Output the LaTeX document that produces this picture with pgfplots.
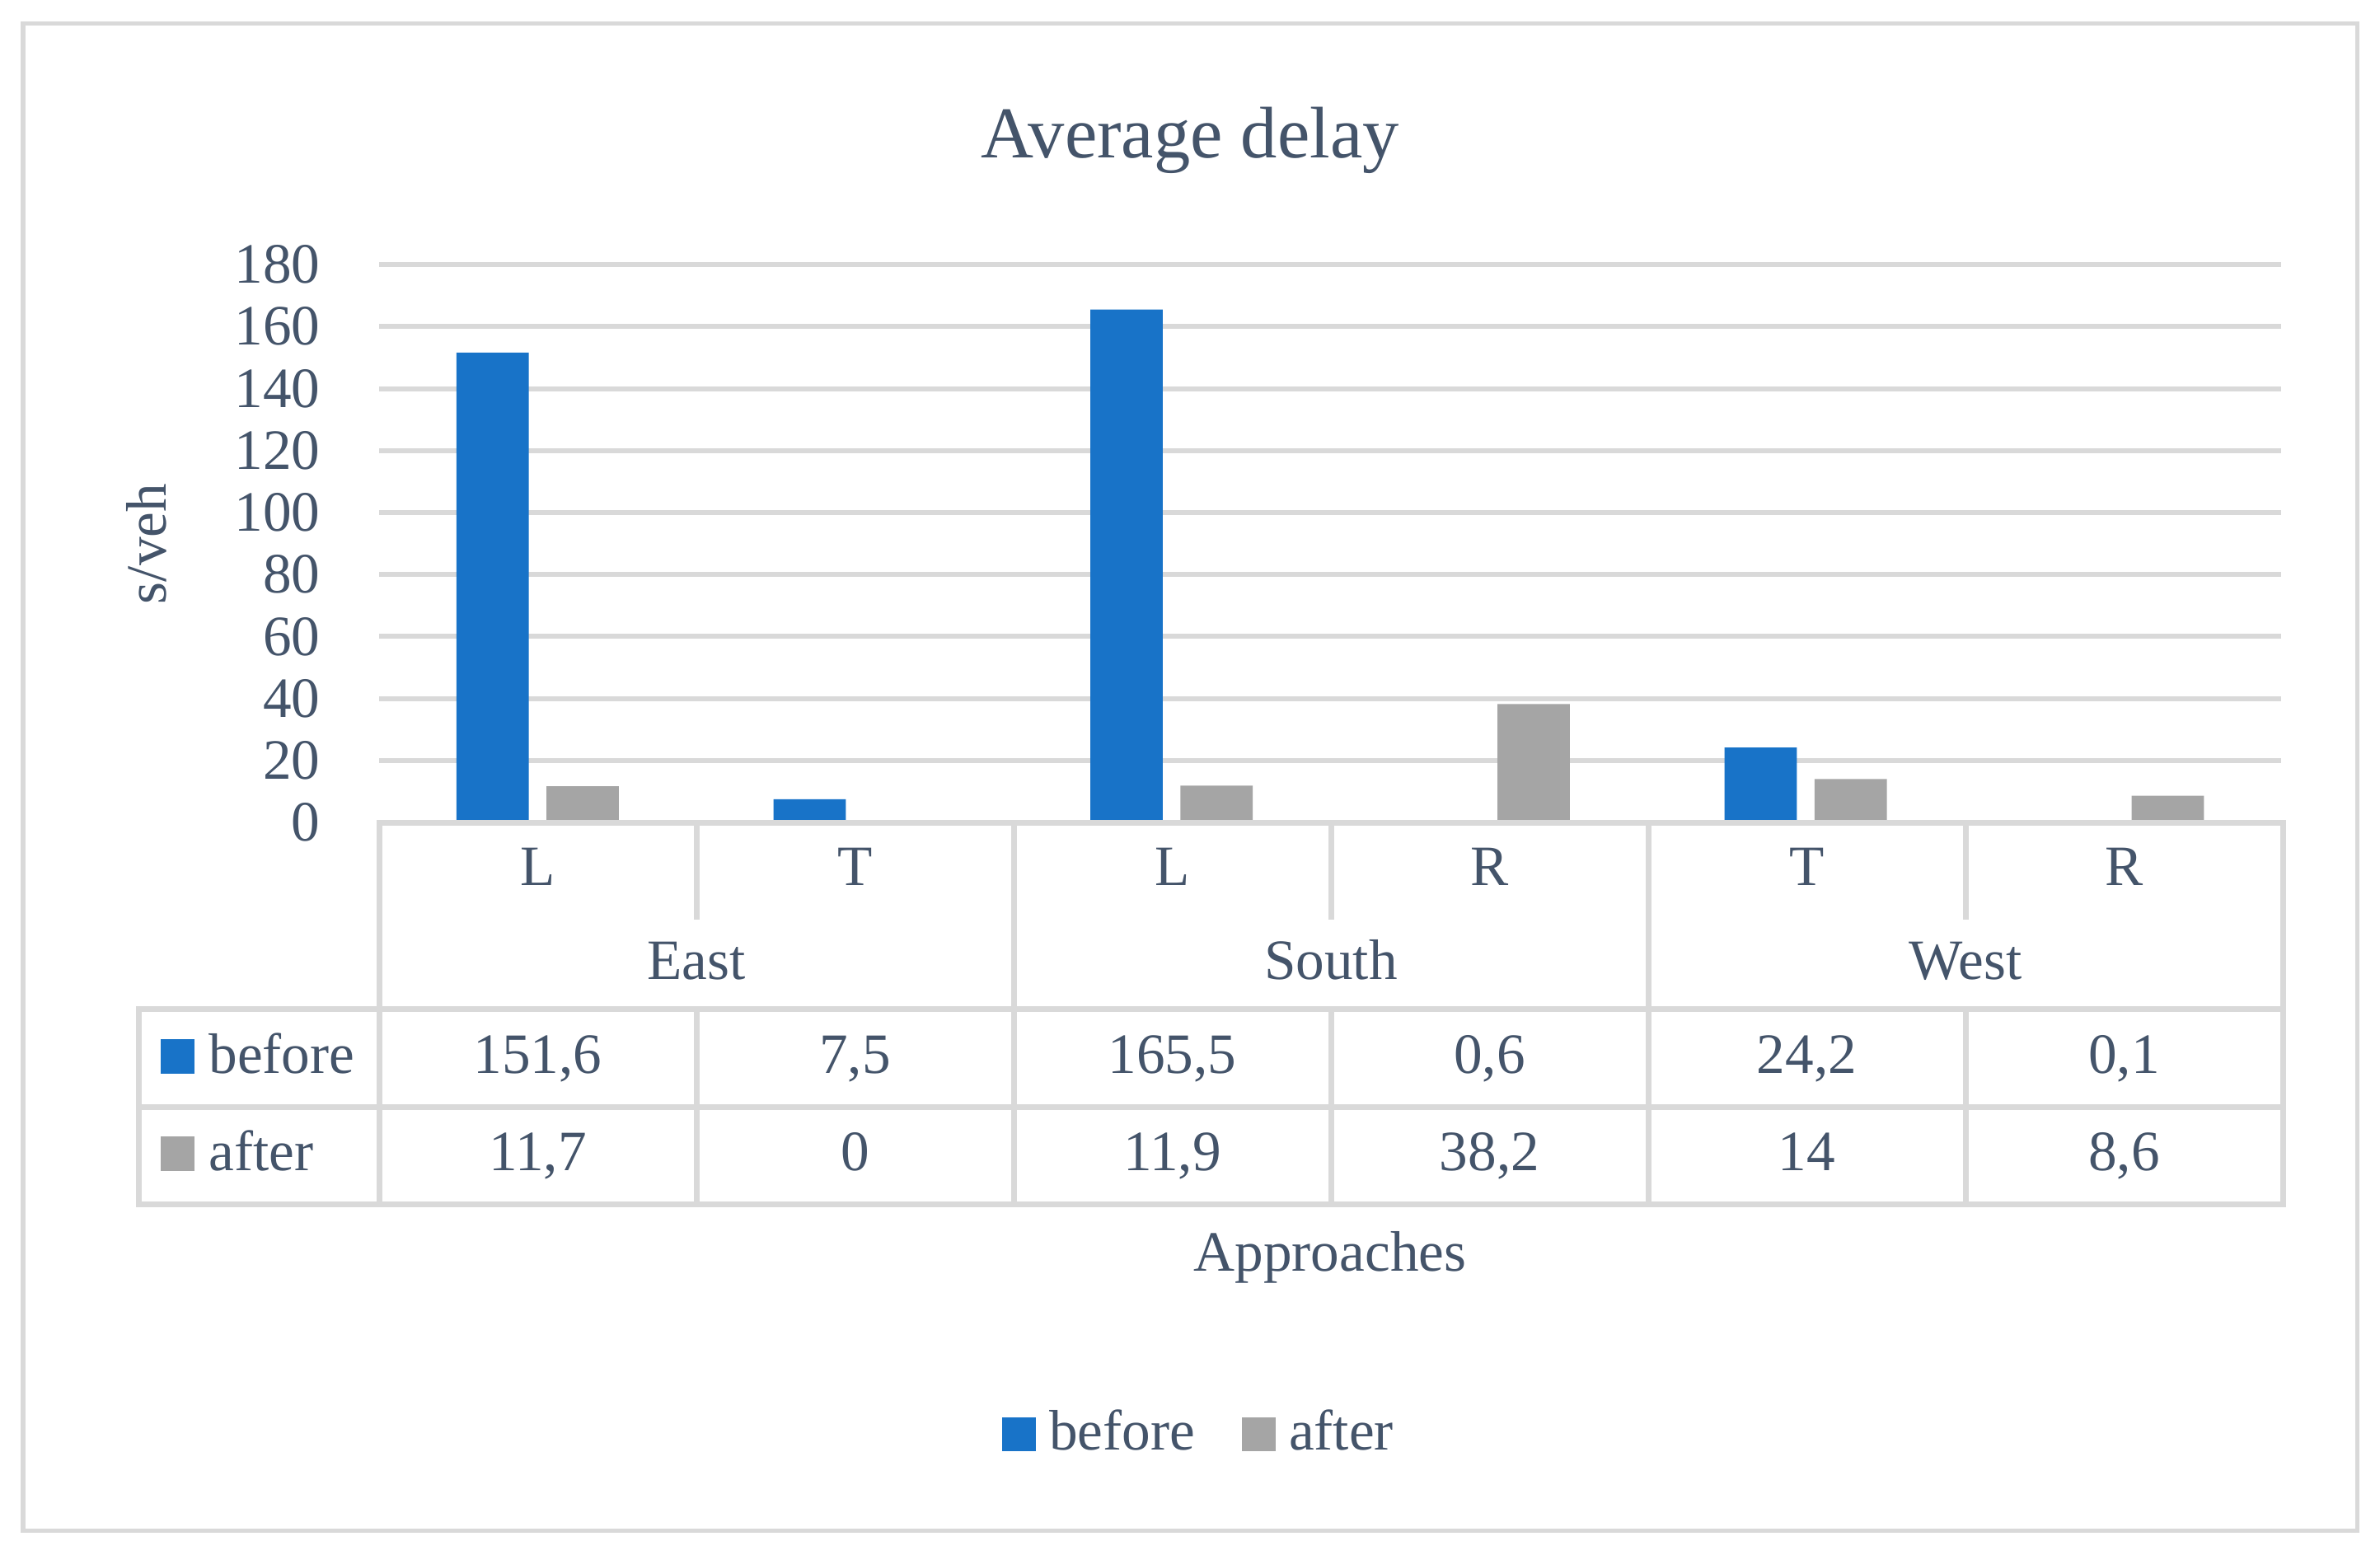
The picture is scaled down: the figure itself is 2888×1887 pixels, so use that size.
\documentclass[border=0pt]{standalone}
\usepackage{fontspec}
\setmainfont{Liberation Serif}
\usepackage{pgfplots}
\pgfplotsset{compat=1.18}

\definecolor{txt}{HTML}{44546A}
\definecolor{gridgray}{HTML}{D9D9D9}
\definecolor{bluebar}{RGB}{24,115,200}
\definecolor{graybar}{HTML}{A5A5A5}

\begin{document}
\begin{tikzpicture}[font=\fontsize{9.85}{11}\selectfont, text=txt]
% page frame, 1 unit = one pixel of the reference
\begin{scope}[x=0.05mm,y=-0.05mm]
  \path[use as bounding box, fill=white] (0,0) rectangle (2888,1887);
  \draw[gridgray, line width=0.25mm] (28,28) rectangle (2860,1857);
  \node[anchor=base, font=\fontsize{12.6}{14}\selectfont] at (1444,191) {Average delay};
  \node[anchor=base, rotate=90] at (202,660) {s/veh};
  \node[anchor=base] at (1614,1542) {Approaches};
\end{scope}

\begin{axis}[
  at={(23mm,-49.9mm)}, anchor=south west,
  width=115.4mm, height=33.85mm, scale only axis,
  ybar, bar width=0.228,
  xmin=-0.5, xmax=5.5, ymin=0, ymax=180,
  ytick={0,20,...,180}, xtick=\empty,
  ymajorgrids, grid style={gridgray, line width=0.3mm},
  axis line style={draw=none},
  major tick length=0pt,
  yticklabel style={anchor=east, inner sep=0pt, xshift=-3.5mm, text=txt},
  /pgf/number format/assume math mode=true,
  legend columns=2,
  legend style={at={(0.4305,-1.096)}, anchor=center, draw=none, fill=none,
    inner sep=0pt, nodes={inner sep=0pt, text=txt},
    /tikz/every odd column/.append style={column sep=0.8mm},
    /tikz/every even column/.append style={column sep=2.85mm}},
  legend image code/.code={\fill[#1] (0mm,-1.05mm) rectangle (2.05mm,1.0mm);},
]
% before
\addplot[fill=bluebar, draw=none, bar shift=-0.142] coordinates {
  (0,151.6) (1,7.5) (2,165.5) (3,0.6) (4,24.2) (5,0.1)};
% after
\addplot[fill=graybar, draw=none, bar shift=0.142] coordinates {
  (0,11.7) (1,0) (2,11.9) (3,38.2) (4,14) (5,8.6)};
\legend{before, after}
\end{axis}

% data table below the plot
\begin{scope}[x=0.05mm,y=-0.05mm, every path/.style={gridgray, line width=0.35mm, line cap=rect}]
  \draw (460,998) -- (2770,998);
  \foreach \y in {1224,1343,1461} \draw (168,\y) -- (2770,\y);
  \foreach \x in {460,1230,2000,2770} \draw (\x,998) -- (\x,1461);
  \foreach \x in {845,1615,2385} {\draw (\x,998) -- (\x,1112); \draw (\x,1224) -- (\x,1461);}
  \draw (168,1224) -- (168,1461);
\end{scope}
\begin{scope}[x=0.05mm,y=-0.05mm]
  \foreach \x/\t in {652.5/L,1037.5/T,1422.5/L,1807.5/R,2192.5/T,2577.5/R}
    \node[anchor=base, inner sep=0pt] at (\x,1074) {\t};
  \foreach \x/\t in {845/East,1615/South,2385/West}
    \node[anchor=base, inner sep=0pt] at (\x,1188) {\t};
  \foreach \x/\t in {652.5/{151,6},1037.5/{7,5},1422.5/{165,5},1807.5/{0,6},2192.5/{24,2},2577.5/{0,1}}
    \node[anchor=base, inner sep=0pt] at (\x,1302) {\t};
  \foreach \x/\t in {652.5/{11,7},1037.5/0,1422.5/{11,9},1807.5/{38,2},2192.5/14,2577.5/{8,6}}
    \node[anchor=base, inner sep=0pt] at (\x,1420) {\t};
  \fill[bluebar] (195,1261) rectangle (236,1303);
  \fill[graybar] (195,1379) rectangle (236,1421);
  \node[anchor=base west, inner sep=0pt] at (252,1302) {before};
  \node[anchor=base west, inner sep=0pt] at (252,1420) {after};
\end{scope}
\end{tikzpicture}
\end{document}
